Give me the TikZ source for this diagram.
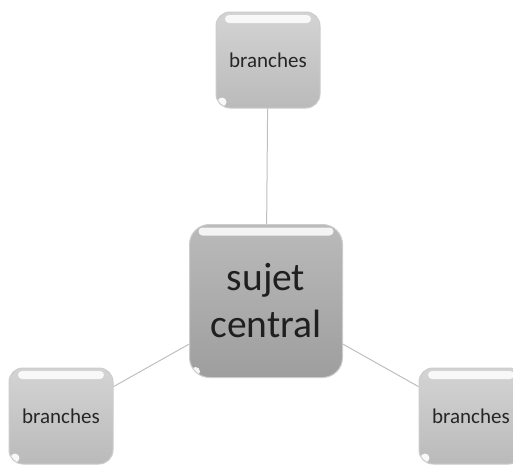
\documentclass[tikz,border=0pt]{standalone}
\usepackage{fontspec}
\setmainfont{Carlito}

\tikzset{
  gloss/.style={path picture={
      \fill[white, opacity=0.85, rounded corners=4pt]
        ([xshift=9pt,yshift=-3pt]path picture bounding box.north west) rectangle
        ([xshift=-9pt,yshift=-11pt]path picture bounding box.north east);
      \fill[white, opacity=0.9]
        ([xshift=6pt,yshift=6pt]path picture bounding box.south west) circle (4.5pt);
    }},
  branchbox/.style={rectangle, rounded corners=14pt, draw=black!20, line width=1pt,
    top color=black!17, bottom color=black!27, inner sep=0pt,
    minimum width=104pt, minimum height=96pt, text=black!85,
    font=\fontsize{21}{25}\selectfont, gloss},
  centralbox/.style={rectangle, rounded corners=20pt, draw=black!20, line width=1pt,
    top color=black!27, bottom color=black!38, inner sep=0pt, align=center,
    minimum width=153pt, minimum height=153pt, text=black!88,
    font=\fontsize{39.5}{47}\selectfont, gloss},
  link/.style={draw=black!25, line width=1pt}
}

\begin{document}
\begin{tikzpicture}[x=1pt, y=-1pt]
                \useasboundingbox (0, 0) rectangle (513, 471);
                \node[centralbox] (sujet) at (266, 301) {sujet\\central};
                \node[branchbox] (top) at (268, 60) {branches};
                \node[branchbox] (left) at (61, 416) {branches};
                \node[branchbox] (right) at (471, 416) {branches};

                \draw[link] (sujet) -- (top);
                \draw[link] (sujet) -- (left);
                \draw[link] (sujet) -- (right);
            \end{tikzpicture}
\end{document}
